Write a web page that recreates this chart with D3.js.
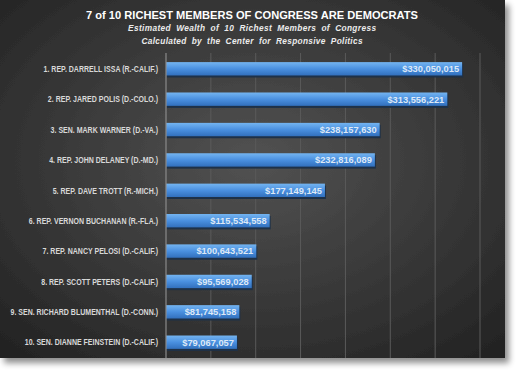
<!DOCTYPE html>
<html>
<head>
<meta charset="utf-8">
<script src="https://cdn.jsdelivr.net/npm/d3@7"></script>
<style>
  body { margin: 0; background: #fff; }
  text { font-family: "Liberation Sans", Arial, sans-serif; }
</style>
</head>
<body>
<div id="chart"></div>
<script>
var members = [
  "1. REP. DARRELL ISSA (R.-CALIF.)",
  "2. REP. JARED POLIS (D.-COLO.)",
  "3. SEN. MARK WARNER (D.-VA.)",
  "4. REP. JOHN DELANEY (D.-MD.)",
  "5. REP. DAVE TROTT (R.-MICH.)",
  "6. REP. VERNON BUCHANAN (R.-FLA.)",
  "7. REP. NANCY PELOSI (D.-CALIF.)",
  "8. REP. SCOTT PETERS (D.-CALIF.)",
  "9. SEN. RICHARD BLUMENTHAL (D.-CONN.)",
  "10. SEN. DIANNE FEINSTEIN (D.-CALIF.)"
];
var wealth = [330050015, 313556221, 238157630, 232816089, 177149145,
              115534558, 100643521, 95569028, 81745158, 79067057];
var gridTicks = [0, 50e6, 100e6, 150e6, 200e6, 250e6, 300e6, 350e6];

var title = "7 of 10 RICHEST MEMBERS OF CONGRESS ARE DEMOCRATS";
var subtitle1 = "Estimated Wealth of 10 Richest Members of Congress";
var subtitle2 = "Calculated by the Center for Responsive Politics";

function init() {
  var w = 520, h = 376;
  var panelW = 505, panelH = 358;
  var left = 166, right = 480, top = 53, bottom = 358;

  var svg = d3.select("#chart").append("svg")
    .attr("width", w).attr("height", h);

  var defs = svg.append("defs");
  var bg = defs.append("radialGradient").attr("id", "bg")
    .attr("cx", "50%").attr("cy", "45%").attr("r", "70%");
  bg.append("stop").attr("offset", "0%").attr("stop-color", "#525252");
  bg.append("stop").attr("offset", "100%").attr("stop-color", "#242424");

  var barGrad = defs.append("linearGradient").attr("id", "bar")
    .attr("x1", 0).attr("y1", 0).attr("x2", 0).attr("y2", 1);
  barGrad.append("stop").attr("offset", "0%").attr("stop-color", "#74b4f0");
  barGrad.append("stop").attr("offset", "50%").attr("stop-color", "#4a90e0");
  barGrad.append("stop").attr("offset", "100%").attr("stop-color", "#3270bd");

  var shadow = defs.append("filter").attr("id", "shadow")
    .attr("x", "-5%").attr("y", "-5%").attr("width", "115%").attr("height", "115%");
  shadow.append("feGaussianBlur").attr("in", "SourceAlpha").attr("stdDeviation", 3);
  shadow.append("feOffset").attr("dx", 4).attr("dy", 5).attr("result", "b");
  shadow.append("feComponentTransfer").append("feFuncA").attr("type", "linear").attr("slope", 0.45);
  var mg = shadow.append("feMerge");
  mg.append("feMergeNode");
  mg.append("feMergeNode").attr("in", "SourceGraphic");

  // panel
  svg.append("rect")
    .attr("x", 0).attr("y", 0)
    .attr("width", panelW).attr("height", panelH)
    .attr("fill", "url(#bg)")
    .attr("filter", "url(#shadow)");

  var x = d3.scaleLinear().domain([0, 350e6]).range([left, right]);
  var y = d3.scaleBand().domain(members).range([top, bottom]).paddingInner(0.56).paddingOuter(0.3);

  // gridlines
  svg.append("g").selectAll("line")
    .data(gridTicks.slice(1))
    .enter().append("line")
    .attr("x1", function(d) { return x(d); })
    .attr("x2", function(d) { return x(d); })
    .attr("y1", top).attr("y2", bottom)
    .attr("stroke", "#5a5a5a").attr("stroke-width", 1);

  // bar shadows
  svg.append("g").selectAll("rect")
    .data(wealth)
    .enter().append("rect")
    .attr("x", x(0) + 1)
    .attr("y", function(d, i) { return y(members[i]) + 2; })
    .attr("width", function(d) { return x(d) - x(0); })
    .attr("height", y.bandwidth())
    .attr("fill", "#1e3148");

  svg.append("g").selectAll("rect")
    .data(wealth)
    .enter().append("rect")
    .attr("x", x(0))
    .attr("y", function(d, i) { return y(members[i]); })
    .attr("width", function(d) { return x(d) - x(0); })
    .attr("height", y.bandwidth())
    .attr("fill", "url(#bar)");

  // axis line
  svg.append("line")
    .attr("x1", x(0)).attr("x2", x(0))
    .attr("y1", top).attr("y2", bottom)
    .attr("stroke", "#8a8a8a").attr("stroke-width", 1.2);

  // category labels (squeezed like Calibri)
  svg.append("g").selectAll("text")
    .data(members)
    .enter().append("text")
    .attr("transform", function(d) {
      return "translate(" + (left - 8) + "," + (y(d) + y.bandwidth() / 2) + ") scale(0.78,1)";
    })
    .attr("dy", "0.36em")
    .attr("text-anchor", "end")
    .attr("font-size", 9)
    .attr("font-weight", "bold")
    .attr("fill", "#d8d8d8")
    .text(function(d) { return d; });

  // value labels
  var fmt = d3.format("$,");
  svg.append("g").selectAll("text")
    .data(wealth)
    .enter().append("text")
    .attr("x", function(d) { return x(d) - 3; })
    .attr("y", function(d, i) { return y(members[i]) + y.bandwidth() / 2; })
    .attr("dy", "0.36em")
    .attr("text-anchor", "end")
    .attr("font-size", 9.3)
    .attr("font-weight", "bold")
    .attr("fill", "#dde9f7")
    .text(function(d) { return fmt(d); });

  // titles
  svg.append("text")
    .attr("x", 252).attr("y", 18.5)
    .attr("text-anchor", "middle")
    .attr("font-size", 10.5)
    .attr("font-weight", "bold")
    .attr("fill", "#ffffff")
    .attr("textLength", 332).attr("lengthAdjust", "spacingAndGlyphs")
    .text(title);
  svg.append("text")
    .attr("x", 252).attr("y", 30.5)
    .attr("text-anchor", "middle")
    .attr("font-size", 8.3)
    .attr("font-weight", "bold")
    .attr("font-style", "italic")
    .attr("fill", "#ececec")
    .attr("word-spacing", 2.5)
    .attr("textLength", 248).attr("lengthAdjust", "spacing")
    .text(subtitle1);
  svg.append("text")
    .attr("x", 252).attr("y", 43.5)
    .attr("text-anchor", "middle")
    .attr("font-size", 8.3)
    .attr("font-weight", "bold")
    .attr("font-style", "italic")
    .attr("fill", "#ececec")
    .attr("word-spacing", 2.5)
    .attr("textLength", 221).attr("lengthAdjust", "spacing")
    .text(subtitle2);
}

window.onload = init;
</script>
</body>
</html>
